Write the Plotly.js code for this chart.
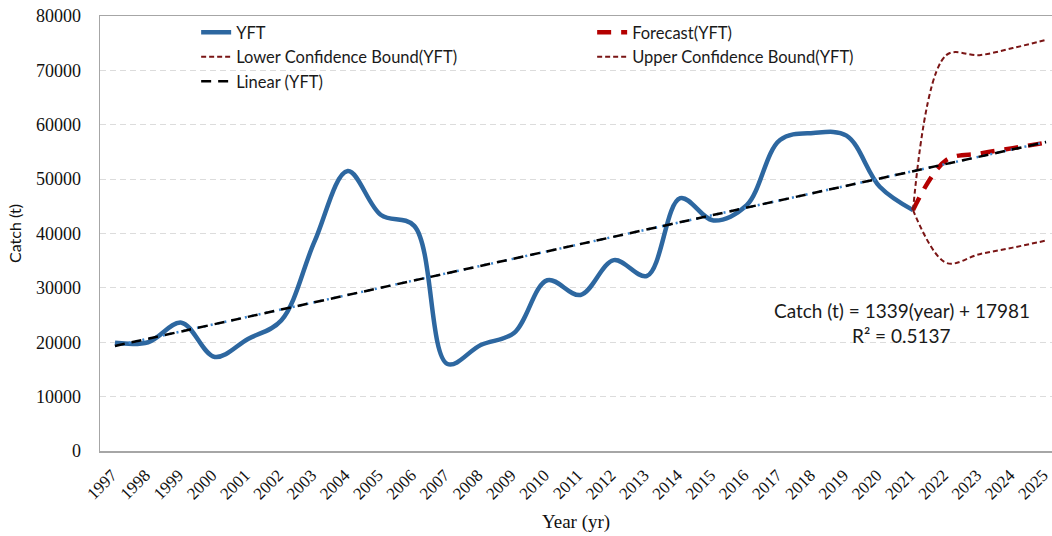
<!DOCTYPE html>
<html>
<head>
<meta charset="utf-8">
<script src="https://cdn.plot.ly/plotly-3.0.1.min.js"></script>
<style>html,body{margin:0;padding:0;background:#fff;}#chart{width:1052px;height:536px;}</style>
</head>
<body>
<div id="chart"></div>
<script>
const years = [1997,1998,1999,2000,2001,2002,2003,2004,2005,2006,2007,2008,2009,2010,2011,2012,2013,2014,2015,2016,2017,2018,2019,2020,2021];
const yft = [19900,20000,23600,17300,20600,24000,38500,51500,43400,41400,16000,19500,21700,31400,28700,35100,32200,46500,42400,45200,57200,58500,58000,48600,44300];
const fcYears = [2021,2022,2023,2024,2025];
const forecast = [44300,53500,54700,55700,56700];
const lowerBound = [44300,34600,36200,37400,38700];
const upperBound = [44300,72800,72800,74100,75600];
const trendYears = [1997,2025];
const trendValues = [19320,56812];
const tickYears = [1997,1998,1999,2000,2001,2002,2003,2004,2005,2006,2007,2008,2009,2010,2011,2012,2013,2014,2015,2016,2017,2018,2019,2020,2021,2022,2023,2024,2025];

const sans = "Lato, 'Open Sans', sans-serif";
const serif = "'Liberation Serif', 'DejaVu Serif', serif";

const traces = [
  {x: years, y: yft, name: 'YFT', type: 'scatter', mode: 'lines',
   line: {color: '#2d67a0', width: 4.5, shape: 'spline', smoothing: 1}},
  {x: fcYears, y: forecast, name: 'Forecast(YFT)', type: 'scatter', mode: 'lines',
   line: {color: '#b40000', width: 4.5, dash: '14px,10px', shape: 'spline', smoothing: 1}},
  {x: fcYears, y: lowerBound, name: 'Lower Confidence Bound(YFT)', type: 'scatter', mode: 'lines',
   line: {color: '#7a1515', width: 2, dash: '5px,3px', shape: 'spline', smoothing: 1}},
  {x: fcYears, y: upperBound, name: 'Upper Confidence Bound(YFT)', type: 'scatter', mode: 'lines',
   line: {color: '#7a1515', width: 2, dash: '5px,3px', shape: 'spline', smoothing: 1}},
  {x: trendYears, y: trendValues, name: 'trend-dots', showlegend: false, type: 'scatter', mode: 'lines',
   hoverinfo: 'skip', line: {color: '#3b86d0', width: 2.5, dash: '2px,5px'}},
  {x: trendYears, y: trendValues, name: 'Linear (YFT)', type: 'scatter', mode: 'lines',
   line: {color: '#000000', width: 2.5, dash: '10px,7px'}}
];

const layout = {
  width: 1052, height: 536,
  margin: {l: 100, r: 0, t: 16, b: 85},
  paper_bgcolor: '#ffffff', plot_bgcolor: '#ffffff',
  showlegend: true,
  legend: {orientation: 'h', x: 0.101, xanchor: 'left', y: 1.002, yanchor: 'top',
           entrywidth: 351, entrywidthmode: 'pixels', bgcolor: 'rgba(0,0,0,0)',
           font: {family: sans, size: 16.5, color: '#1a1a1a'}, traceorder: 'normal'},
  xaxis: {range: [1996.55, 2025.18], tickmode: 'array', tickvals: tickYears, ticktext: tickYears.map(String),
          tickangle: -45, tickfont: {family: serif, size: 17, color: '#111'}, ticklabeloverflow: 'allow',
          ticklabelstandoff: 6, ticklabelshift: -3,
          showgrid: false, zeroline: false, showline: true, linecolor: '#a6a6a6', linewidth: 1.5, mirror: true,
          ticks: '', title: {text: 'Year (yr)', font: {family: serif, size: 19, color: '#111'}, standoff: 12}},
  yaxis: {range: [0, 80000], tickmode: 'array', tickvals: [0,10000,20000,30000,40000,50000,60000,70000,80000],
          ticktext: ['0','10000','20000','30000','40000','50000','60000','70000','80000'],
          tickfont: {family: serif, size: 18, color: '#111'}, ticks: '', ticklabelstandoff: 14,
          showgrid: true, gridcolor: '#dcdcdc', griddash: '6px,4px', gridwidth: 1,
          zeroline: false, showline: true, linecolor: '#a6a6a6', linewidth: 1.5,
          title: {text: 'Catch (t)', font: {family: sans, size: 16, color: '#111'}, standoff: 10}},
  annotations: [
    {xref: 'paper', yref: 'paper', x: 0.842, y: (451-310)/435, xanchor: 'center', yanchor: 'middle', showarrow: false,
     text: 'Catch (t) = 1339(year) + 17981', font: {family: sans, size: 19, color: '#1a1a1a'}},
    {xref: 'paper', yref: 'paper', x: 0.842, y: (451-335)/435, xanchor: 'center', yanchor: 'middle', showarrow: false,
     text: 'R² = 0.5137', font: {family: sans, size: 19, color: '#1a1a1a'}}
  ]
};

Plotly.newPlot('chart', traces, layout, {displayModeBar: false, staticPlot: true});
</script>
</body>
</html>
